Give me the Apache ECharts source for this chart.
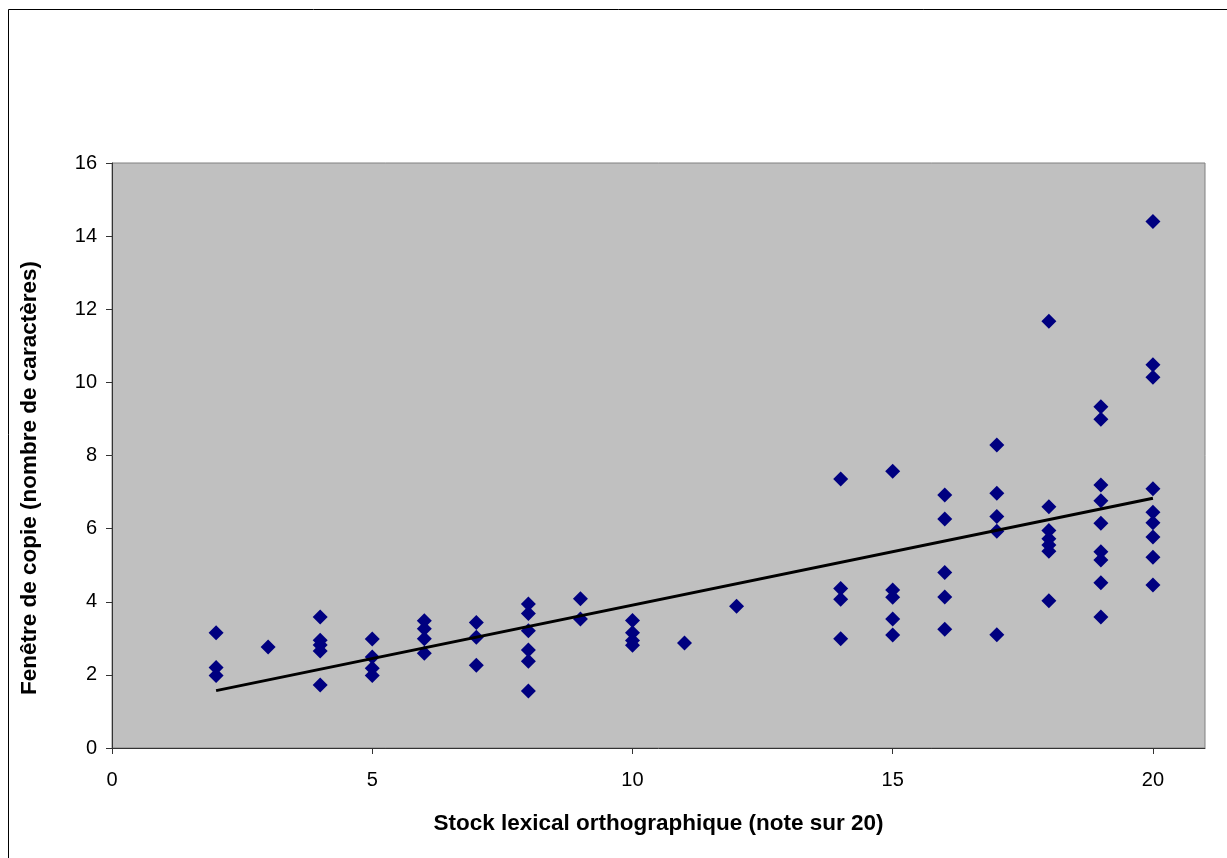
<!DOCTYPE html>
<html>
<head>
<meta charset="utf-8">
<script src="https://cdn.jsdelivr.net/npm/echarts@6/dist/echarts.min.js"></script>
<style>
html,body{margin:0;padding:0;background:#fff;}
#chart{width:1227px;height:858px;}
</style>
</head>
<body>
<div id="chart"></div>
<script>
// Data: x = Stock lexical orthographique score, y = Fenêtre de copie
const xScores = [
  2,2,2,
  3,
  4,4,4,4,4,
  5,5,5,5,
  6,6,6,6,
  7,7,7,
  8,8,8,8,8,8,
  9,9,
  10,10,10,10,
  11,
  12,
  14,14,14,14,
  15,15,15,15,15,
  16,16,16,16,16,
  17,17,17,17,17,
  18,18,18,18,18,18,18,
  19,19,19,19,19,19,19,19,19,
  20,20,20,20,20,20,20,20,20
];
const yWindow = [
  3.15,2.20,1.98,
  2.76,
  3.58,2.95,2.82,2.65,1.72,
  2.98,2.49,2.18,1.98,
  3.48,3.26,2.99,2.59,
  3.43,3.03,2.26,
  3.94,3.68,3.21,2.68,2.37,1.56,
  4.08,3.53,
  3.49,3.15,2.94,2.81,
  2.87,
  3.88,
  7.36,4.36,4.07,2.99,
  7.57,4.32,4.12,3.53,3.09,
  6.92,6.26,4.80,4.13,3.25,
  8.29,6.97,6.33,5.93,3.10,
  11.67,6.60,5.95,5.72,5.55,5.38,4.03,
  9.33,8.99,7.19,6.76,6.15,5.37,5.14,4.52,3.58,
  14.40,10.48,10.14,7.09,6.45,6.16,5.77,5.22,4.46
];
const trendX = [2, 20];
const trendY = [1.57, 6.83];
const xTicks = [0, 5, 10, 15, 20];
const yTicks = [0, 2, 4, 6, 8, 10, 12, 14, 16];
const xTitle = 'Stock lexical orthographique (note sur 20)';
const yTitle = 'Fenêtre de copie (nombre de caractères)';

const points = xScores.map((x, i) => [x, yWindow[i]]);
const trend = trendX.map((x, i) => [x, trendY[i]]);

const chart = echarts.init(document.getElementById('chart'));
const font = '"Liberation Sans", Arial, sans-serif';
chart.setOption({
  animation: false,
  backgroundColor: '#ffffff',
  graphic: [{
    type: 'rect',
    shape: {x: 8.5, y: 9.5, width: 1240, height: 870},
    style: {fill: 'none', stroke: '#000', lineWidth: 1},
    silent: true
  }, {
    type: 'text',
    x: 30, y: 478,
    rotation: Math.PI / 2,
    style: {
      text: yTitle, fill: '#000',
      font: 'bold 22.5px "Liberation Sans", Arial, sans-serif',
      align: 'center', verticalAlign: 'middle'
    },
    silent: true
  }],
  grid: {
    left: 112, top: 163, width: 1093, height: 585,
    show: true, backgroundColor: '#c0c0c0', borderColor: '#808080', borderWidth: 1
  },
  xAxis: {
    type: 'value', min: 0, max: 21, interval: 5,
    name: xTitle, nameLocation: 'middle', nameGap: 64,
    nameTextStyle: {fontFamily: font, fontWeight: 'bold', fontSize: 22.5, color: '#000'},
    axisLine: {show: true, onZero: false, lineStyle: {color: '#333', width: 1}},
    axisTick: {show: true, length: 6, lineStyle: {color: '#333'}, customValues: xTicks},
    axisLabel: {fontFamily: font, fontSize: 20, color: '#000', margin: 22, customValues: xTicks},
    splitLine: {show: false}
  },
  yAxis: {
    type: 'value', min: 0, max: 16, interval: 2,
    axisLine: {show: true, onZero: false, lineStyle: {color: '#333', width: 1}},
    axisTick: {show: true, length: 6, lineStyle: {color: '#333'}, customValues: yTicks},
    axisLabel: {fontFamily: font, fontSize: 20, color: '#000', margin: 15, customValues: yTicks},
    splitLine: {show: false}
  },
  series: [
    {
      type: 'scatter', data: points, symbol: 'diamond', symbolSize: 15,
      itemStyle: {color: '#000080', opacity: 1}, z: 3
    },
    {
      type: 'line', data: trend, showSymbol: false, symbol: 'none',
      lineStyle: {color: '#000', width: 3}, z: 4
    }
  ]
});
</script>
</body>
</html>
